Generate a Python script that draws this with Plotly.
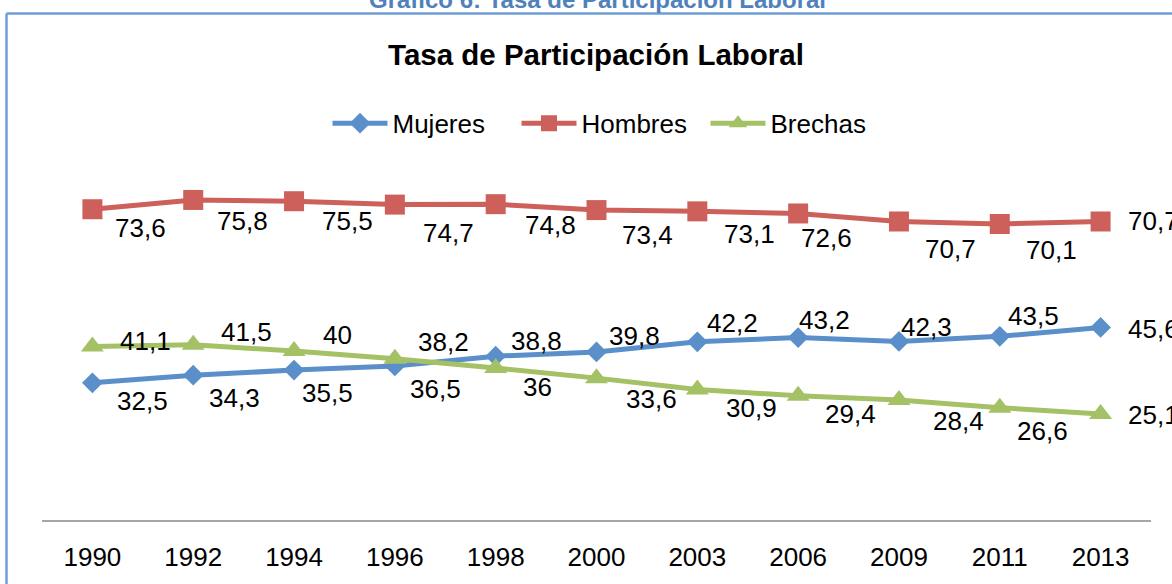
import plotly.graph_objects as go

# ---- data ----
years = ["1990", "1992", "1994", "1996", "1998", "2000", "2003", "2006", "2009", "2011", "2013"]
mujeres = [32.5, 34.3, 35.5, 36.5, 38.8, 39.8, 42.2, 43.2, 42.3, 43.5, 45.6]
hombres = [73.6, 75.8, 75.5, 74.7, 74.8, 73.4, 73.1, 72.6, 70.7, 70.1, 70.7]
brechas = [41.1, 41.5, 40.0, 38.2, 36.0, 33.6, 30.9, 29.4, 28.4, 26.6, 25.1]

title_text = "Tasa de Participación Laboral"
caption_text = "Gráfico 6: Tasa de Participación Laboral"

# ---- label placement (pixel offsets: left edge dx, vertical centre dy, down positive) ----
muj_off = [(23, 18), (14, 23), (6, 23), (13, 23), (13, -15), (10, -16), (8, -19), (-1, -18), (0, -14), (6, -20), (25, 2)]
hom_off = [(21, 19), (22, 21), (26, 20), (26, 28), (27, 21), (23, 25), (25, 23), (1, 25), (24, 28), (24, 26), (25, 0)]
bre_off = [(26, -5), (26, -13), (27, -16), (21, -17), (25, 19), (27, 21), (27, 18), (25, 18), (32, 21), (15, 23), (25, 1)]

# ---- style ----
W, H = 1172, 584
ML, MR, MT, MB = 42, 21, 140, 58
PW, PH = W - ML - MR, H - MT - MB
FONT = "Liberation Sans, Arial, sans-serif"
C_MUJ = "#5B8FCA"
C_HOM = "#CD605A"
C_BRE = "#A4C165"
BORDER = "#6E9ED6"


def px_x(p):
    return (p - ML) / PW


def px_y(p):
    return (H - MB - p) / PH


def fmt(v):
    return f"{v:g}".replace(".", ",")


fig = go.Figure()
series = [
    ("Mujeres", mujeres, C_MUJ, "diamond", 16, muj_off),
    ("Hombres", hombres, C_HOM, "square", 20, hom_off),
    ("Brechas", brechas, C_BRE, "triangle-up", 20, bre_off),
]
annotations = []
for name, vals, col, sym, size, offs in series:
    fig.add_trace(go.Scatter(
        x=years, y=vals, name=name, mode="lines+markers",
        line=dict(color=col, width=5),
        marker=dict(symbol=sym, size=size, color=col),
        cliponaxis=False, hoverinfo="skip",
    ))
    for i, (v, (dx, dy)) in enumerate(zip(vals, offs)):
        annotations.append(dict(
            x=i, y=v, xref="x", yref="y", text=fmt(v), showarrow=False,
            xanchor="left", yanchor="middle", xshift=dx, yshift=-dy,
            font=dict(family=FONT, size=26, color="#000000"),
        ))

annotations.append(dict(
    x=px_x(597), y=px_y(-3), xref="paper", yref="paper", text="<b>" + caption_text + "</b>",
    showarrow=False, xanchor="center", yanchor="middle",
    font=dict(family=FONT, size=24, color="#4F81BD"),
))

shapes = [
    dict(type="line", xref="paper", yref="paper", x0=px_x(6.5), x1=px_x(1190), y0=px_y(11.5), y1=px_y(11.5),
         line=dict(color=BORDER, width=2.5)),
    dict(type="line", xref="paper", yref="paper", x0=px_x(6.5), x1=px_x(6.5), y0=px_y(11.5), y1=px_y(620),
         line=dict(color=BORDER, width=2.5)),
]

fig.update_layout(
    width=W, height=H,
    margin=dict(l=ML, r=MR, t=MT, b=MB),
    paper_bgcolor="white", plot_bgcolor="white",
    font=dict(family=FONT, color="#000000"),
    title=dict(text="<b>" + title_text + "</b>", x=596 / W, xref="container", xanchor="center",
               y=1 - 55 / H, yref="container", yanchor="middle",
               font=dict(family=FONT, size=29.5, color="#000000")),
    legend=dict(orientation="h", x=px_x(611), xanchor="center", y=px_y(123), yanchor="middle",
                font=dict(family=FONT, size=26, color="#000000"), bgcolor="rgba(0,0,0,0)",
                itemwidth=55, entrywidth=119, entrywidthmode="pixels"),
    xaxis=dict(type="category", range=[-0.5, 10.5], showline=True, linecolor="#A6A6A6", linewidth=1.5,
               ticks="", showgrid=False, zeroline=False, ticklabelstandoff=13,
               tickfont=dict(family=FONT, size=26, color="#000000")),
    yaxis=dict(range=[0, 90], visible=False, showgrid=False, zeroline=False),
    annotations=annotations,
    shapes=shapes,
)

fig.write_html("out.html", config={"displayModeBar": False},
               post_script="document.body.style.margin='0';")
